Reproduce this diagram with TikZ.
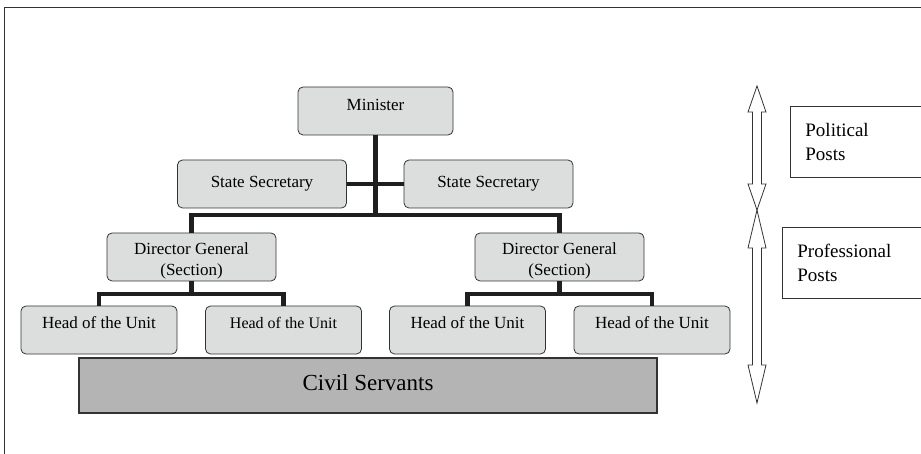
\documentclass[tikz,border=0pt]{standalone}
\usepackage{fontspec}
\setmainfont{Liberation Serif}
\definecolor{boxgray}{HTML}{DCDEDD}
\definecolor{basegray}{HTML}{B3B4B3}
\definecolor{linegray}{HTML}{333333}
% hollow double arrow: x, top, bottom, head length
\newcommand{\postarrow}[4]{%
  \draw[linegray, line width=0.8pt] (#1,#2) -- ++(9,#4) -- ++(-4.5,0) -- (#1+4.5,#3-#4) -- ++(4.5,0)
    -- (#1,#3) -- ++(-9,-#4) -- ++(4.5,0) -- (#1-4.5,#2+#4) -- ++(-4.5,0) -- cycle;}
\tikzset{
  post/.style={draw=linegray, fill=boxgray, rounded corners=5pt, minimum height=48pt, inner sep=0pt,
    line width=0.8pt, text height=12pt, font=\fontsize{17}{19}\selectfont},
  unit/.style={post, minimum width=156pt, text depth=14.8pt},
  link/.style={draw=black!88, line width=4.5pt},
  sidebox/.style={draw=linegray, line width=0.8pt, minimum height=71pt, anchor=north west, align=left,
    inner xsep=15pt, font=\fontsize{19}{24}\selectfont}
}
\begin{document}
\begin{tikzpicture}[x=1pt, y=-1pt]
  \useasboundingbox (0,0) rectangle (921,454);
  \draw[linegray, line width=0.8pt] (4.5,454) -- (4.5,7.5) -- (925,7.5);

  % hierarchy
  \node[post, minimum width=155pt, text depth=12pt] (minister) at (375.5,111) {Minister};
  \node[post, minimum width=169pt, text depth=4.8pt] (ssl) at (262,184) {State Secretary};
  \node[post, minimum width=169pt, text depth=4.8pt] (ssr) at (488.5,184) {State Secretary};
  \node[post, minimum width=169pt, align=center, text height=41pt, font=\fontsize{17}{21}\selectfont] (dgl) at (191.5,257) {Director General\\(Section)};
  \node[post, minimum width=169pt, align=center, text height=41pt, font=\fontsize{17}{21}\selectfont] (dgr) at (559.5,257) {Director General\\(Section)};
  \node[unit] (hu1) at (99,330) {Head of the Unit};
  \node[unit, font=\fontsize{16}{18}\selectfont, text depth=16pt] (hu2) at (283.5,330) {Head of the Unit};
  \node[unit] (hu3) at (467.5,330) {Head of the Unit};
  \node[unit] (hu4) at (652,330) {Head of the Unit};
  \node[draw=linegray, fill=basegray, line width=1.2pt, minimum width=578pt, minimum height=55pt, inner sep=0pt,
    text depth=5pt, font=\fontsize{23}{26}\selectfont] (civil) at (368,385.5) {Civil Servants};

  % connectors
  \coordinate (bus) at (375.5,215);
  \coordinate (dglbus) at (191.5,294);
  \coordinate (dgrbus) at (559.5,294);
  \draw[link] (minister.south) -- (bus);
  \draw[link] (ssl.east) -- (ssr.west);
  \draw[link] (dgl.north) |- (bus) -| (dgr.north);
  \draw[link] (dgl.south) -- (dglbus);
  \draw[link] (hu1.north) |- (dglbus) -| (hu2.north);
  \draw[link] (dgr.south) -- (dgrbus);
  \draw[link] (hu3.north) |- (dgrbus) -| (hu4.north);

  % post ranges
  \postarrow{757}{86}{210}{26}
  \postarrow{757}{210}{403}{38}
  \node[sidebox, text width=105pt] (political) at (790,106) {Political\\Posts};
  \node[sidebox, text width=113pt] (professional) at (782,227) {Professional\\Posts};
\end{tikzpicture}
\end{document}
